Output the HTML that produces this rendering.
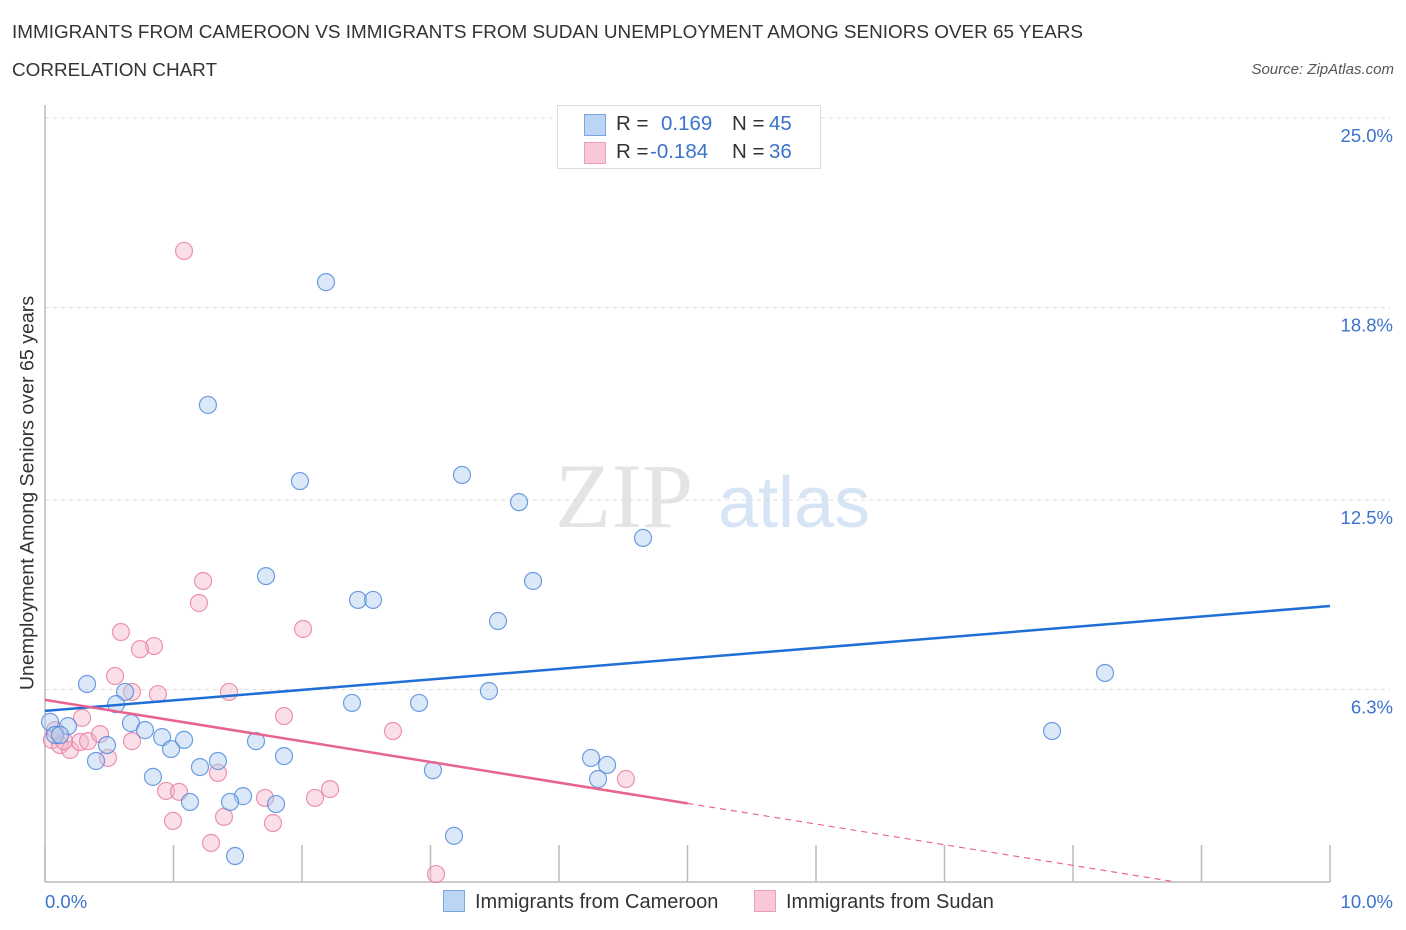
<!DOCTYPE html>
<html><head><meta charset="utf-8">
<style>
body{margin:0;background:#fff;font-family:"Liberation Sans",sans-serif;}
#wrap{position:relative;width:1406px;height:930px;overflow:hidden;}
.t{position:absolute;white-space:nowrap;}
</style></head><body>
<div id="wrap">
<div class="t" style="left:12px;top:22px;font-size:18.9px;color:#333;">IMMIGRANTS FROM CAMEROON VS IMMIGRANTS FROM SUDAN UNEMPLOYMENT AMONG SENIORS OVER 65 YEARS</div>
<div class="t" style="left:12px;top:60px;font-size:18.9px;color:#333;">CORRELATION CHART</div>
<div class="t" style="right:12px;top:61px;font-size:15px;color:#555;font-style:italic;">Source: ZipAtlas.com</div>
<svg id="chart" width="1406" height="930" style="position:absolute;left:0;top:0"></svg>
</div>
<script>
const blueX=[2.187,1.268,1.984,3.245,3.689,4.654,1.720,3.798,2.436,2.553,3.525,8.249,0.327,0.623,3.455,0.553,2.389,2.911,0.669,0.778,0.179,0.039,0.078,0.117,0.911,1.082,1.642,7.837,0.482,0.981,1.346,1.860,0.397,4.249,4.374,1.206,3.019,4.304,0.840,1.541,1.440,1.798,1.128,3.183,1.479];
const blueY=[19.63,15.61,13.12,13.32,12.43,11.26,10.01,9.85,9.23,9.23,8.54,6.84,6.48,6.22,6.25,5.82,5.86,5.86,5.20,4.97,5.10,5.24,4.81,4.81,4.74,4.65,4.61,4.94,4.48,4.35,3.96,4.12,3.96,4.06,3.83,3.76,3.66,3.37,3.44,2.81,2.62,2.55,2.62,1.51,0.85];
const pinkX=[1.082,1.230,1.198,2.008,0.591,0.848,0.739,0.545,0.677,0.879,1.432,0.288,1.860,2.708,0.054,0.117,0.195,0.272,0.335,0.428,0.677,0.490,1.346,4.521,0.942,1.043,2.218,1.712,2.101,1.393,0.996,1.774,1.292,3.043,0.148,0.078];
const pinkY=[20.65,9.85,9.13,8.28,8.18,7.72,7.62,6.74,6.22,6.15,6.22,5.37,5.43,4.94,4.65,4.48,4.32,4.58,4.61,4.84,4.61,4.06,3.57,3.37,2.98,2.95,3.04,2.75,2.75,2.13,2.00,1.93,1.28,0.26,4.61,4.97];
const yTicks=[25.0,18.8,12.5,6.3];
const yTickLabels=["25.0%","18.8%","12.5%","6.3%"];
const xTickVals=[0,1,2,3,4,5,6,7,8,9,10];
const blueTrend=[5.60,9.03];
const pinkTrend=[5.96,0];
const pinkZeroX=8.8;
const pinkSolidEnd=5.0;
const X0=45,X1=1330,Y0=882,YTOP=118;
const sx=v=>X0+(X1-X0)*v/10;
const sy=v=>Y0-(Y0-YTOP)*v/25;
const svg=document.getElementById('chart');
const NS='http://www.w3.org/2000/svg';
function mk(tag,attrs){const e=document.createElementNS(NS,tag);for(const k in attrs)e.setAttribute(k,attrs[k]);svg.appendChild(e);return e;}
let w=mk('text',{x:555,y:527,'font-size':92,fill:'#e4e4e4','font-family':'Liberation Serif,serif'});w.textContent='ZIP';


w=mk('text',{x:718,y:527,'font-size':72,fill:'#d6e4f5','font-family':'Liberation Sans,sans-serif'});w.textContent='atlas';


yTicks.forEach((v,i)=>{
 const g=mk('line',{x1:X0,x2:1390,y1:sy(v),y2:sy(v),stroke:'#ddd','stroke-dasharray':'4 4'});
 
 
 const t=mk('text',{x:1393,y:sy(v)+24,'text-anchor':'end','font-size':18.5,fill:'#3b73cc'});
 t.textContent=yTickLabels[i];
 
 
});
let a=mk('line',{x1:X0,x2:X0,y1:105,y2:Y0,stroke:'#bbb','stroke-width':1.5});


a=mk('line',{x1:X0,x2:X1,y1:Y0,y2:Y0,stroke:'#bbb','stroke-width':1.5});


xTickVals.forEach(v=>{
 const t=mk('line',{x1:sx(v),x2:sx(v),y1:845,y2:Y0,stroke:'#bbb','stroke-width':1.5});
 
 
});
function dots(xs,ys,fill,stroke,name){
 xs.forEach((x,i)=>{
  const c=mk('circle',{cx:sx(x),cy:sy(ys[i]),r:8.5,fill:fill,'fill-opacity':0.45,stroke:stroke,'stroke-width':1.2,'stroke-opacity':0.8});
  
  
 });
}
dots(pinkX,pinkY,'#f5b8cc','#e87a9c','sudan-point');
dots(blueX,blueY,'#aecbf0','#4d86d9','cameroon-point');
let l=mk('line',{x1:sx(0),y1:sy(blueTrend[0]),x2:sx(10),y2:sy(blueTrend[1]),stroke:'#1f6fd6','stroke-width':2.5});


const slope=(pinkTrend[1]-pinkTrend[0])/pinkZeroX;
const py=x=>pinkTrend[0]+slope*x;
l=mk('line',{x1:sx(0),y1:sy(py(0)),x2:sx(pinkSolidEnd),y2:sy(py(pinkSolidEnd)),stroke:'#e8648f','stroke-width':2.5});


l=mk('line',{x1:sx(pinkSolidEnd),y1:sy(py(pinkSolidEnd)),x2:sx(pinkZeroX),y2:sy(py(pinkZeroX)),stroke:'#e8648f','stroke-width':1.2,'stroke-dasharray':'6 5'});


</script>
<div class="t" style="left:45px;top:891px;font-size:18.5px;color:#3b73cc;">0.0%</div>
<div class="t" style="right:13px;top:891px;font-size:18.5px;color:#3b73cc;">10.0%</div>
<div class="t" style="left:28px;top:493px;font-size:19.6px;color:#333;transform:translate(-50%,-50%) rotate(-90deg);">Unemployment Among Seniors over 65 years</div>
<div style="position:absolute;left:557px;top:105px;width:262px;height:62px;border:1px solid #ddd;background:#fff;font-size:20.5px;">
 <div style="position:absolute;left:26px;top:8px;width:20px;height:20px;background:#bcd5f5;border:1px solid #7aa7e3;"></div>
 <div class="t" style="left:58px;top:6px;color:#333;">R =</div>
 <div class="t" style="left:103px;top:6px;color:#3b73cc;">0.169</div>
 <div class="t" style="left:174px;top:6px;color:#333;">N =</div>
 <div class="t" style="left:211px;top:6px;color:#3b73cc;">45</div>
 <div style="position:absolute;left:26px;top:36px;width:20px;height:20px;background:#f9c8d8;border:1px solid #eba0b8;"></div>
 <div class="t" style="left:58px;top:34px;color:#333;">R =</div>
 <div class="t" style="left:92px;top:34px;color:#3b73cc;">-0.184</div>
 <div class="t" style="left:174px;top:34px;color:#333;">N =</div>
 <div class="t" style="left:211px;top:34px;color:#3b73cc;">36</div>
</div>
<div style="position:absolute;left:443px;top:890px;font-size:20px;color:#333;">
 <span style="display:inline-block;width:20px;height:20px;background:#bcd5f5;border:1px solid #7aa7e3;vertical-align:-4px;margin-right:10px;"></span>Immigrants from Cameroon</div>
<div style="position:absolute;left:754px;top:890px;font-size:20px;color:#333;">
 <span style="display:inline-block;width:20px;height:20px;background:#f9c8d8;border:1px solid #eba0b8;vertical-align:-4px;margin-right:10px;"></span>Immigrants from Sudan</div>
</body></html>
